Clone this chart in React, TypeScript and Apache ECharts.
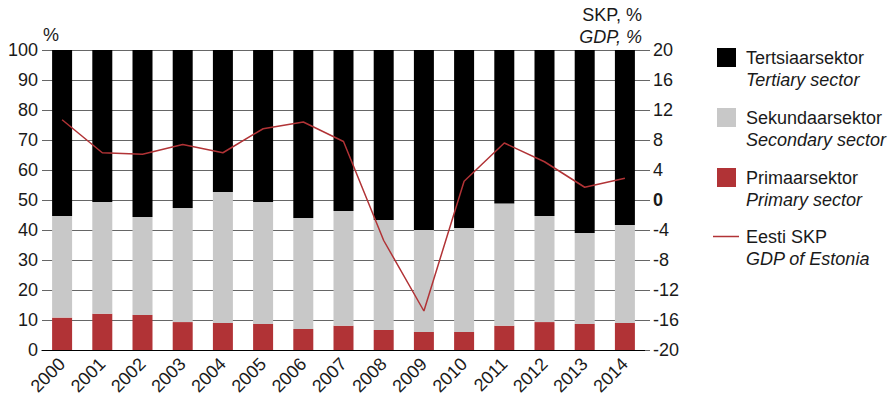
import React, { useEffect, useRef } from "react";
import * as echarts from "echarts";

const years = ["2000","2001","2002","2003","2004","2005","2006","2007","2008","2009","2010","2011","2012","2013","2014"];
const primary = [10.8, 12.1, 11.7, 9.3, 9.0, 8.7, 7.0, 8.1, 6.7, 6.0, 6.0, 8.1, 9.3, 8.7, 9.0];
const secondary = [33.9, 37.2, 32.6, 38.0, 43.7, 40.6, 37.0, 38.2, 36.6, 34.0, 34.7, 40.7, 35.4, 30.3, 32.7];
const tertiary = [55.3, 50.7, 55.7, 52.7, 47.3, 50.7, 56.0, 53.7, 56.7, 60.0, 59.3, 51.2, 55.3, 61.0, 58.3];
const gdp = [10.7, 6.3, 6.1, 7.4, 6.3, 9.5, 10.4, 7.8, -5.4, -14.8, 2.5, 7.6, 5.1, 1.7, 2.9];

const leftTicks = { min: 0, max: 100, interval: 10 };
const rightTicks = { min: -20, max: 20, interval: 4 };

const FONT = "Liberation Sans, Arial, sans-serif";
const RED = "#b13336";
const GREY = "#c8c8c8";
const TXT = "#1a1a1a";

export default function App() {
  const ref = useRef<HTMLDivElement>(null);
  useEffect(() => {
    if (!ref.current) return;
    const chart = echarts.init(ref.current, null, { renderer: "svg" });
    const fs = 18;
    const legendItems = [
      { y: 58, a: "Tertsiaarsektor", b: "Tertiary sector", color: "#000000", line: false },
      { y: 118, a: "Sekundaarsektor", b: "Secondary sector", color: GREY, line: false },
      { y: 178, a: "Primaarsektor", b: "Primary sector", color: RED, line: false },
      { y: 237, a: "Eesti SKP", b: "GDP of Estonia", color: RED, line: true },
    ];
    const graphic: any[] = [];
    legendItems.forEach((it) => {
      if (it.line) {
        graphic.push({ type: "line", shape: { x1: 713, y1: it.y - 0.5, x2: 739, y2: it.y - 0.5 }, style: { stroke: it.color, lineWidth: 1.5 } });
      } else {
        graphic.push({ type: "rect", shape: { x: 717, y: it.y - 10, width: 19, height: 19 }, style: { fill: it.color } });
      }
      graphic.push({ type: "text", x: 746, y: it.y, style: { text: it.a, fill: TXT, font: `${fs}px ${FONT}`, textVerticalAlign: "middle" } });
      graphic.push({ type: "text", x: 746, y: it.y + 22, style: { text: it.b, fill: TXT, font: `italic ${fs}px ${FONT}`, textVerticalAlign: "middle" } });
    });
    graphic.push({ type: "text", x: 43, y: 35, style: { text: "%", fill: TXT, font: `${fs}px ${FONT}`, textVerticalAlign: "middle" } });
    graphic.push({ type: "text", x: 642, y: 15, style: { text: "SKP, %", fill: TXT, font: `${fs}px ${FONT}`, textAlign: "right", textVerticalAlign: "middle" } });
    graphic.push({ type: "text", x: 642, y: 37, style: { text: "GDP, %", fill: TXT, font: `italic ${fs}px ${FONT}`, textAlign: "right", textVerticalAlign: "middle" } });

    chart.setOption({
      animation: false,
      textStyle: { fontFamily: FONT },
      grid: { left: 42, right: 250, top: 50, bottom: 46, containLabel: false, outerBoundsMode: "none" },
      xAxis: {
        type: "category",
        data: years,
        axisLine: { lineStyle: { color: "#000", width: 1.2 } },
        axisTick: { show: false },
        axisLabel: { rotate: 45, fontSize: fs, color: TXT, margin: 11, interval: 0 },
      },
      yAxis: [
        {
          type: "value",
          min: leftTicks.min, max: leftTicks.max, interval: leftTicks.interval,
          axisLine: { show: false },
          axisTick: { show: false },
          axisLabel: { fontSize: fs, color: TXT, margin: 4 },
          splitLine: { lineStyle: { color: "#666", width: 1 } },
        },
        {
          type: "value",
          min: rightTicks.min, max: rightTicks.max, interval: rightTicks.interval,
          position: "right",
          axisLine: { show: false },
          axisTick: { show: true, length: 5, lineStyle: { color: "#666" } },
          axisLabel: {
            fontSize: fs, color: TXT, margin: 8,
            formatter: (v: number) => (v === 0 ? "{b|0}" : String(v)),
            rich: { b: { fontWeight: "bold", fontSize: fs, color: TXT } },
          },
          splitLine: { show: false },
        },
      ],
      series: [
        { name: "Primaarsektor", type: "bar", stack: "s", data: primary, barWidth: 20, itemStyle: { color: RED } },
        { name: "Sekundaarsektor", type: "bar", stack: "s", data: secondary, barWidth: 20, itemStyle: { color: GREY } },
        { name: "Tertsiaarsektor", type: "bar", stack: "s", data: tertiary, barWidth: 20, itemStyle: { color: "#000" } },
        { name: "Eesti SKP", type: "line", yAxisIndex: 1, data: gdp, symbol: "none", lineStyle: { color: RED, width: 1.5 }, z: 5 },
      ],
      graphic,
    });
    return () => chart.dispose();
  }, []);
  return <div ref={ref} style={{ width: 895, height: 396, position: "absolute", left: 0, top: 0 }} />;
}
